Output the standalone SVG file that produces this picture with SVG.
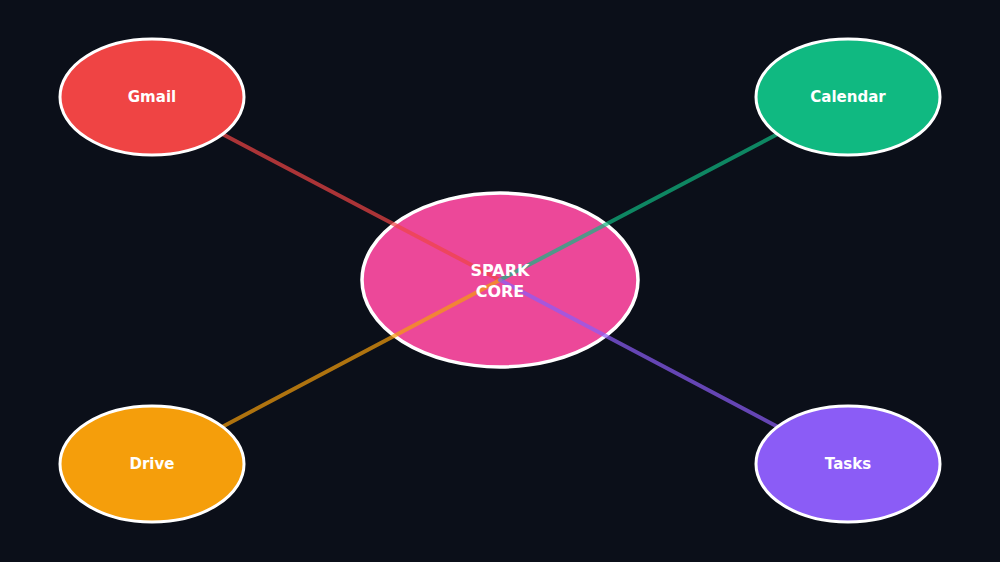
<svg xmlns="http://www.w3.org/2000/svg" width="1000" height="562" viewBox="0 0 1000 562">
<style>
.bg{fill:#0b0f19}
.link{stroke-width:4;fill:none;stroke-opacity:0.7;stroke-linecap:round}
.node{stroke:#ffffff;stroke-width:3}
.core{stroke:#ffffff;stroke-width:3.5;fill:#ec4899}
.lbl{font-family:"DejaVu Sans",sans-serif;font-weight:bold;font-size:15px;fill:#ffffff;text-anchor:middle}
.clbl{font-family:"DejaVu Sans",sans-serif;font-weight:bold;font-size:16px;fill:#ffffff;text-anchor:middle}
</style>
<rect class="bg" x="0" y="0" width="1000" height="562"/>
<g id="core">
<ellipse class="core" cx="500" cy="280" rx="138" ry="87"/>
</g>
<g id="connectors">
<line class="link" x1="152" y1="97" x2="500" y2="280" stroke="#ef4444"/>
<line class="link" x1="848" y1="97" x2="500" y2="280" stroke="#10b981"/>
<line class="link" x1="152" y1="464" x2="500" y2="280" stroke="#f59e0b"/>
<line class="link" x1="848" y1="464" x2="500" y2="280" stroke="#8b5cf6"/>
</g>
<g id="core-label">
<text class="clbl" x="500" y="276">SPARK</text>
<text class="clbl" x="500" y="297">CORE</text>
</g>
<g id="gmail">
<ellipse class="node" cx="152" cy="97" rx="92" ry="58" fill="#ef4444"/>
<text class="lbl" x="152" y="102">Gmail</text>
</g>
<g id="calendar">
<ellipse class="node" cx="848" cy="97" rx="92" ry="58" fill="#10b981"/>
<text class="lbl" x="848" y="102">Calendar</text>
</g>
<g id="drive">
<ellipse class="node" cx="152" cy="464" rx="92" ry="58" fill="#f59e0b"/>
<text class="lbl" x="152" y="469">Drive</text>
</g>
<g id="tasks">
<ellipse class="node" cx="848" cy="464" rx="92" ry="58" fill="#8b5cf6"/>
<text class="lbl" x="848" y="469">Tasks</text>
</g>
</svg>
